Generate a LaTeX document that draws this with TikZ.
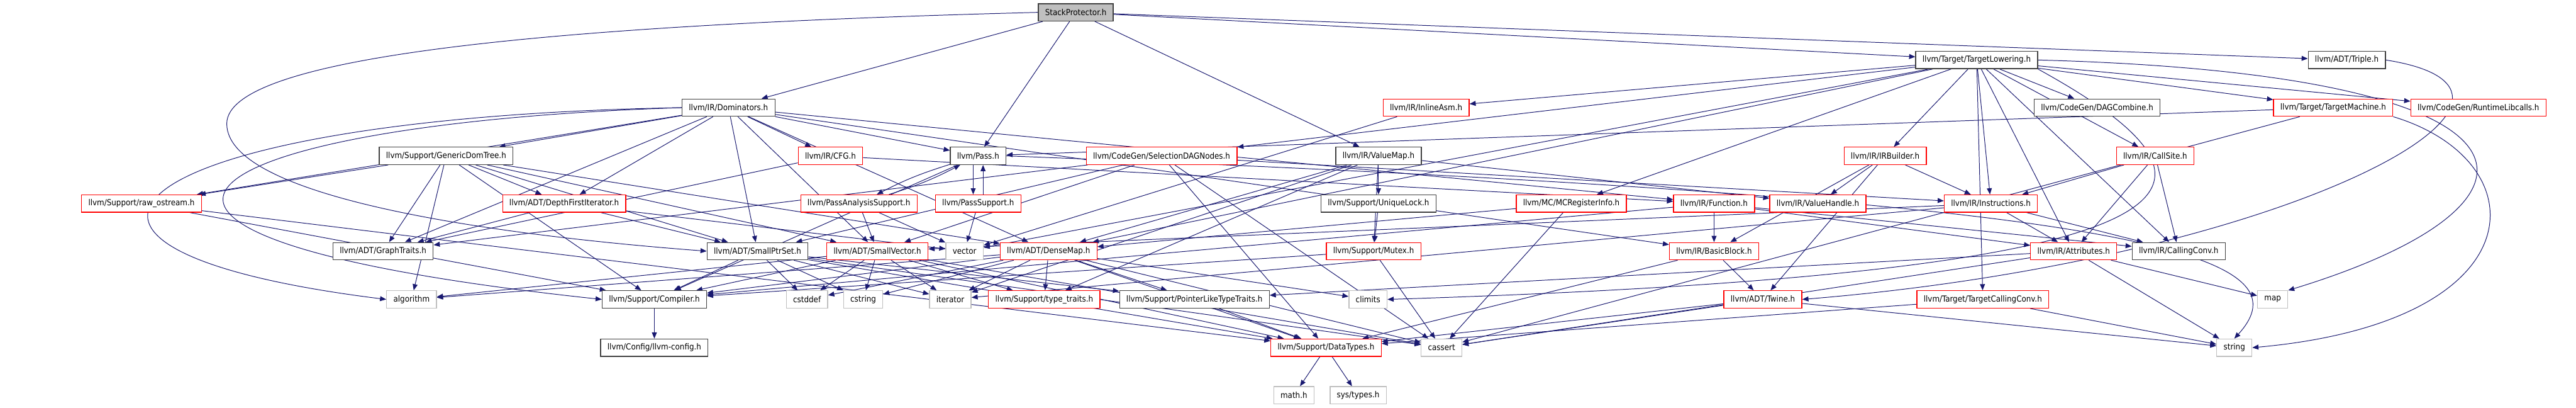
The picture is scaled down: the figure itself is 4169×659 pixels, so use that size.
\documentclass[tikz,border=0pt]{standalone}
\usepackage{fontspec}
\setmainfont{DejaVu Sans Condensed}
\usetikzlibrary{arrows.meta, backgrounds}
\definecolor{edgeblue}{HTML}{191970}
\definecolor{rootgrey}{HTML}{BFBFBF}
\definecolor{sysgrey}{HTML}{BFBFBF}
\definecolor{boxline}{HTML}{404040}
\newcommand{\graphfont}{\fontsize{13.5}{16}\selectfont}

\begin{document}
\begin{tikzpicture}[
  x=1pt, y=-1pt,
  hdr/.style={draw=boxline, fill=white, line width=1.3pt, minimum height=28pt, inner xsep=11pt, inner ysep=0pt, font=\graphfont},
  hdrr/.style={hdr, draw=red},
  sys/.style={hdr, draw=sysgrey},
  root/.style={hdr, fill=rootgrey},
  dep/.style={->, draw=edgeblue, line width=1pt},
  >={Triangle[length=10pt,width=8pt]}
]
\useasboundingbox (0,0) rectangle (4169,659);

\node[root] (sp) at (1741,20) {StackProtector.h};

\node[hdr]  (tlow)   at (3199,97) {llvm/Target/TargetLowering.h};
\node[hdr]  (triple) at (3798,97) {llvm/ADT/Triple.h};

\node[hdr]  (dom)   at (1179,174) {llvm/IR/Dominators.h};
\node[hdrr] (inasm) at (2308,174) {llvm/IR/InlineAsm.h};
\node[hdr]  (dagc)  at (3394,174) {llvm/CodeGen/DAGCombine.h};
\node[hdrr] (tmach) at (3776,174) {llvm/Target/TargetMachine.h};
\node[hdrr] (rtlib) at (4011,174) {llvm/CodeGen/RuntimeLibcalls.h};

\node[hdr]  (gdt)   at (722,252)  {llvm/Support/GenericDomTree.h};
\node[hdrr] (cfg)   at (1344,252) {llvm/IR/CFG.h};
\node[hdr]  (pass)  at (1583,252) {llvm/Pass.h};
\node[hdrr] (sdn)   at (1880,252) {llvm/CodeGen/SelectionDAGNodes.h};
\node[hdr]  (vmap)  at (2231,252) {llvm/IR/ValueMap.h};
\node[hdrr] (irb)   at (3051,252) {llvm/IR/IRBuilder.h};
\node[hdrr] (csite) at (3488,252) {llvm/IR/CallSite.h};

\node[hdrr] (rawos) at (229,329)  {llvm/Support/raw\_ostream.h};
\node[hdrr] (dfi)   at (913,329)  {llvm/ADT/DepthFirstIterator.h};
\node[hdrr] (pas)   at (1390,329) {llvm/PassAnalysisSupport.h};
\node[hdrr] (psup)  at (1583,329) {llvm/PassSupport.h};
\node[hdr]  (ulock) at (2231,329) {llvm/Support/UniqueLock.h};
\node[hdrr] (mcreg) at (2543,329) {llvm/MC/MCRegisterInfo.h};
\node[hdrr] (func)  at (2774,329) {llvm/IR/Function.h};
\node[hdrr] (vhand) at (2942,329) {llvm/IR/ValueHandle.h};
\node[hdrr] (instr) at (3222,329) {llvm/IR/Instructions.h};

\node[hdr]  (gtraits) at (620,406)  {llvm/ADT/GraphTraits.h};
\node[hdr]  (sptrset) at (1226,406) {llvm/ADT/SmallPtrSet.h};
\node[hdrr] (svec)    at (1420,406) {llvm/ADT/SmallVector.h};
\node[sys]  (vec)     at (1561,406) {vector};
\node[hdrr] (dmap)    at (1697,406) {llvm/ADT/DenseMap.h};
\node[hdrr] (mutex)   at (2223,406) {llvm/Support/Mutex.h};
\node[hdrr] (bblock)  at (2774,406) {llvm/IR/BasicBlock.h};
\node[hdrr] (attr)    at (3356,406) {llvm/IR/Attributes.h};
\node[hdr]  (cconv)   at (3526,406) {llvm/IR/CallingConv.h};

\node[sys]  (algo)     at (666,484)  {algorithm};
\node[hdr]  (compiler) at (1059,484) {llvm/Support/Compiler.h};
\node[sys]  (cstddef)  at (1306,484) {cstddef};
\node[sys]  (cstring)  at (1397,484) {cstring};
\node[sys]  (iter)     at (1538,484) {iterator};
\node[hdrr] (ttraits)  at (1690,484) {llvm/Support/type\_traits.h};
\node[hdr]  (pltt)     at (1933,484) {llvm/Support/PointerLikeTypeTraits.h};
\node[sys]  (climits)  at (2214,484) {climits};
\node[hdrr] (twine)    at (2853,484) {llvm/ADT/Twine.h};
\node[hdrr] (tcconv)   at (3209,484) {llvm/Target/TargetCallingConv.h};
\node[sys]  (map)      at (3678,484) {map};

\node[hdr]  (config)  at (1059,562) {llvm/Config/llvm-config.h};
\node[hdrr] (dtypes)  at (2146,562) {llvm/Support/DataTypes.h};
\node[sys]  (cassert) at (2333,562) {cassert};
\node[sys]  (string)  at (3616,562) {string};

\node[sys] (math)     at (2094,639) {math.h};
\node[sys] (systypes) at (2198,639) {sys/types.h};

\begin{scope}[on background layer]
\draw[dep] (sp) -- (dom);
\draw[dep] (sp) -- (pass);
\draw[dep] (sp) -- (vmap);
\draw[dep] (sp) -- (tlow);
\draw[dep] (sp) -- (triple);
\draw[dep] (sp.west) .. controls (900,40) and (367,90) .. (367,200) .. controls (367,320) and (800,380) .. (sptrset.west);

\draw[dep] (tlow) -- (inasm);
\draw[dep] (tlow) -- (sdn);
\draw[dep] (tlow) -- (dmap);
\draw[dep] (tlow) -- (vec);
\draw[dep] (tlow) -- (mcreg);
\draw[dep] (tlow) -- (irb);
\draw[dep] (tlow) -- (instr);
\draw[dep] (tlow) -- (dagc);
\draw[dep] (tlow) -- (tmach);
\draw[dep] (tlow) -- (rtlib);
\draw[dep] (tlow) -- (csite);
\draw[dep] (tlow) -- (cconv);
\draw[dep] (tlow) -- (attr);
\draw[dep] (tlow) -- (tcconv);
\draw[dep] (tlow.south east) .. controls (3640,300) and (3640,440) .. (climits.east);
\draw[dep] (tlow.east) .. controls (4160,120) and (4160,330) .. (map.north east);

\draw[dep] (triple.east) .. controls (4200,150) and (3700,420) .. (twine.east);

\draw[dep] (tmach) -- (pass);
\draw[dep] (tmach) -- (cassert);
\draw[dep] (tmach.south east) .. controls (4110,260) and (4110,520) .. (string.east);

\draw[dep] (inasm) -- (vec);

\draw[dep] (dom) -- (gdt);
\draw[dep] (dom) -- (dfi);
\draw[dep] (dom) -- (cfg);
\draw[dep] (dom) -- (pass);
\draw[dep] (dom) -- (func);
\draw[dep] (dom) -- (bblock);
\draw[dep] (dom) -- (sptrset);
\draw[dep] (dom) -- (svec);
\draw[dep] (dom) -- (dmap);
\draw[dep] (dom) -- (gtraits);
\draw[dep] (dom) -- (rawos);
\draw[dep] (dom.west) .. controls (300,200) and (0,380) .. (compiler.west);
\draw[dep] (dom.west) .. controls (200,190) and (-50,400) .. (algo.west);

\draw[dep] (gdt) -- (rawos);
\draw[dep] (gdt) -- (gtraits);
\draw[dep] (gdt) -- (dfi);
\draw[dep] (gdt) -- (sptrset);
\draw[dep] (gdt) -- (svec);
\draw[dep] (gdt) -- (dmap);
\draw[dep] (gdt) -- (compiler);
\draw[dep] (gdt) -- (algo);

\draw[dep] (cfg) -- (gtraits);
\draw[dep] (cfg) -- (func);

\draw[dep] (pass) to[bend right=5] (pas);
\draw[dep] (pas) to[bend right=5] (pass);
\draw[dep] ([xshift=-8pt]pass.south) -- ([xshift=-8pt]psup.north);
\draw[dep] ([xshift=8pt]psup.north) -- ([xshift=8pt]pass.south);
\draw[dep] (pass) -- (compiler);
\draw[dep] (pass.east) .. controls (3400,320) and (3750,400) .. (string.north);

\draw[dep] (pas) -- (svec);
\draw[dep] (pas) -- (vec);
\draw[dep] (psup) -- (vec);

\draw[dep] (sdn) -- (gtraits);
\draw[dep] (sdn) -- (sptrset);
\draw[dep] (sdn) -- (svec);
\draw[dep] (sdn) -- (instr);
\draw[dep] (sdn) -- (dtypes);
\draw[dep] (sdn) -- (cassert);

\draw[dep] (vmap) -- (dmap);
\draw[dep] (vmap) -- (vhand);
\draw[dep] (vmap) -- (mutex);
\draw[dep] (vmap) -- (ulock);
\draw[dep] (vmap) -- (ttraits);
\draw[dep] (vmap) -- (iter);

\draw[dep] (ulock) -- (mutex);
\draw[dep] (mutex) -- (compiler);
\draw[dep] (mutex) -- (cassert);
\draw[dep] (mcreg) -- (dmap);
\draw[dep] (mcreg) -- (cassert);

\draw[dep] (func) -- (bblock);
\draw[dep] (func) -- (attr);
\draw[dep] (func) -- (cconv);
\draw[dep] (func) -- (compiler);

\draw[dep] (bblock) -- (twine);
\draw[dep] (bblock) -- (dtypes);

\draw[dep] (irb) -- (vhand);
\draw[dep] (irb) -- (instr);
\draw[dep] (irb) -- (bblock);
\draw[dep] (irb) -- (twine);

\draw[dep] (csite) -- (instr);
\draw[dep] (csite) -- (attr);
\draw[dep] (csite) -- (cconv);

\draw[dep] (instr) -- (attr);
\draw[dep] (instr) -- (cconv);
\draw[dep] (instr) -- (svec);
\draw[dep] (instr) -- (iter);

\draw[dep] (rawos) -- (compiler);
\draw[dep] (rawos) -- (dtypes);

\draw[dep] (dfi) -- (gtraits);
\draw[dep] (dfi) -- (sptrset);
\draw[dep] (dfi) -- (vec);

\draw[dep] (sptrset) -- (compiler);
\draw[dep] (sptrset) -- (cstddef);
\draw[dep] (sptrset) -- (cstring);
\draw[dep] (sptrset) -- (iter);
\draw[dep] (sptrset) -- (pltt);
\draw[dep] (sptrset) -- (dtypes);
\draw[dep] (sptrset) -- (cassert);

\draw[dep] (svec) -- (algo);
\draw[dep] (svec) -- (compiler);
\draw[dep] (svec) -- (cstddef);
\draw[dep] (svec) -- (cstring);
\draw[dep] (svec) -- (iter);
\draw[dep] (svec) -- (ttraits);
\draw[dep] (svec) -- (cassert);
\draw[dep] (svec) -- (dtypes);

\draw[dep] (dmap) -- (compiler);
\draw[dep] (dmap) -- (algo);
\draw[dep] (dmap) -- (cstddef);
\draw[dep] (dmap) -- (cstring);
\draw[dep] (dmap) -- (iter);
\draw[dep] (dmap) -- (ttraits);
\draw[dep] (dmap) -- (pltt);
\draw[dep] (dmap) -- (climits);
\draw[dep] (dmap) -- (cassert);
\draw[dep] (dmap) -- (dtypes);

\draw[dep] (pltt) -- (dtypes);

\draw[dep] (attr) -- (pltt);
\draw[dep] (attr) -- (map);
\draw[dep] (attr) -- (string);
\draw[dep] (attr) -- (cassert);

\draw[dep] (twine) -- (dtypes);
\draw[dep] (twine) -- (cassert);
\draw[dep] (twine) -- (string);

\draw[dep] (tcconv) -- (dtypes);
\draw[dep] (tcconv) -- (string);

\draw[dep] (compiler) -- (config);
\draw[dep] (dtypes) -- (math);
\draw[dep] (dtypes) -- (systypes);
\end{scope}

\end{tikzpicture}
\end{document}
